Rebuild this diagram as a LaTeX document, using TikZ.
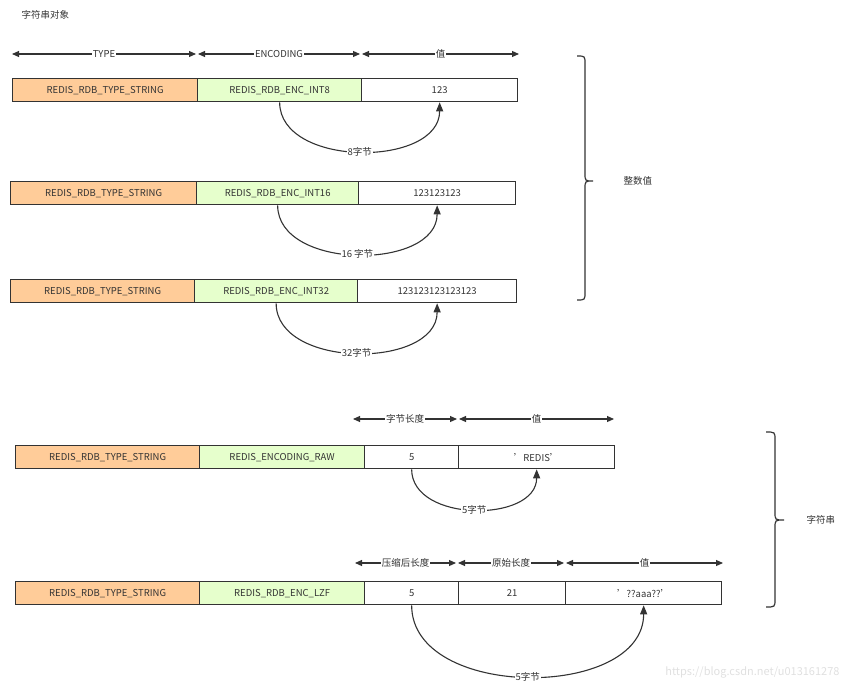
\documentclass[tikz,border=0pt]{standalone}
\usepackage{fontspec}
\setmainfont{Noto Sans CJK SC}
\usetikzlibrary{arrows.meta}
\definecolor{ora}{HTML}{FFCC99}
\definecolor{grn}{HTML}{E6FFCC}
\definecolor{ln}{HTML}{333333}
\begin{document}
\begin{tikzpicture}[x=1pt,y=-1pt,
  every node/.style={font=\fontsize{9.5}{11}\selectfont, text=ln},
  box/.style={draw=ln, line width=1.3pt, rectangle, anchor=north west, minimum height=23pt, inner sep=0pt},
  dim/.style={draw=ln, line width=1.1pt, {Triangle[length=7pt,width=6pt]}-{Triangle[length=7pt,width=6pt]}},
  lab/.style={fill=white, inner sep=1pt},
  jump/.style={draw=ln, line width=1.1pt, -{Triangle[length=9pt,width=7pt]}, out=-90, in=-90},
  brace/.style={draw=ln, line width=1.2pt}]
\useasboundingbox (0,0) rectangle (851,690);
\node[anchor=west] (title) at (18,15) {字符串对象};
% dims row 1
\coordinate (d0) at (12,54); \coordinate (d1) at (197,54); \coordinate (d2) at (361,54); \coordinate (d3) at (519,54);
\draw[dim] (d0) -- node[lab] {TYPE} ([xshift=-1]d1);
\draw[dim] ([xshift=1]d1) -- node[lab] {ENCODING} ([xshift=-1]d2);
\draw[dim] ([xshift=1]d2) -- node[lab] {值} (d3);
% row 1
\node[box, fill=ora, minimum width=185pt] (a1) at (12,78) {REDIS\_RDB\_TYPE\_STRING};
\node[box, fill=grn, minimum width=164pt] (b1) at (197,78) {REDIS\_RDB\_ENC\_INT8};
\node[box, fill=white, minimum width=156pt] (c1) at (361,78) {123};
\draw[jump, looseness=1.05] (b1.south) to node[pos=0.5, lab] {8字节} (c1.south);
% row 2
\node[box, fill=ora, minimum width=186pt] (a2) at (10,181) {REDIS\_RDB\_TYPE\_STRING};
\node[box, fill=grn, minimum width=162pt] (b2) at (196,181) {REDIS\_RDB\_ENC\_INT16};
\node[box, fill=white, minimum width=157pt] (c2) at (358,181) {123123123};
\draw[jump, looseness=1.05] (b2.south) to node[pos=0.5, lab] {16 字节} (c2.south);
% row 3
\node[box, fill=ora, minimum width=184pt] (a3) at (10,279) {REDIS\_RDB\_TYPE\_STRING};
\node[box, fill=grn, minimum width=163pt] (b3) at (194,279) {REDIS\_RDB\_ENC\_INT32};
\node[box, fill=white, minimum width=159pt] (c3) at (357,279) {123123123123123};
\draw[jump, looseness=1.05] (b3.south) to node[pos=0.5, lab] {32字节} (c3.south);
% brace 1
\draw[brace] (577,56) .. controls (585,56) .. (585,64) -- (585,173) .. controls (585,181) .. (593,181) .. controls (585,181) .. (585,189) -- (585,292) .. controls (585,300) .. (577,300);
\node[anchor=west] (int) at (620,181) {整数值};
% dims row 4
\coordinate (e0) at (353,419); \coordinate (e1) at (458,419); \coordinate (e2) at (614,419);
\draw[dim] (e0) -- node[lab] {字节长度} ([xshift=-1]e1);
\draw[dim] ([xshift=1]e1) -- node[lab] {值} (e2);
% row 4
\node[box, fill=ora, minimum width=184pt] (a4) at (15,445) {REDIS\_RDB\_TYPE\_STRING};
\node[box, fill=grn, minimum width=165pt] (b4) at (199,445) {REDIS\_ENCODING\_RAW};
\node[box, fill=white, minimum width=94pt] (c4) at (364,445) {5};
\node[box, fill=white, minimum width=156pt] (f4) at (458,445) {'REDIS'};
\draw[jump, looseness=1.1] (c4.south) to node[pos=0.5, lab] {5字节} (f4.south);
% dims row 5
\coordinate (g0) at (355,563); \coordinate (g1) at (457,563); \coordinate (g2) at (565,563); \coordinate (g3) at (723,563);
\draw[dim] (g0) -- node[lab] {压缩后长度} ([xshift=-1]g1);
\draw[dim] ([xshift=1]g1) -- node[lab] {原始长度} ([xshift=-1]g2);
\draw[dim] ([xshift=1]g2) -- node[lab] {值} (g3);
% row 5
\node[box, fill=ora, minimum width=184pt] (a5) at (15,581) {REDIS\_RDB\_TYPE\_STRING};
\node[box, fill=grn, minimum width=165pt] (b5) at (199,581) {REDIS\_RDB\_ENC\_LZF};
\node[box, fill=white, minimum width=94pt] (c5) at (364,581) {5};
\node[box, fill=white, minimum width=107pt] (h5) at (458,581) {21};
\node[box, fill=white, minimum width=156pt] (f5) at (565,581) {'??aaa??'};
\draw[jump, looseness=1.05] (c5.south) to node[pos=0.5, lab] {5字节} (f5.south);
% brace 2
\draw[brace] (766,432) .. controls (775,432) .. (775,440) -- (775,512) .. controls (775,520) .. (784,520) .. controls (775,520) .. (775,528) -- (775,599) .. controls (775,607) .. (766,607);
\node[anchor=west] (str) at (803,520) {字符串};
\node[anchor=east, text=black!12, font=\fontsize{11}{13}\selectfont] (wm) at (843,672) {https://blog.csdn.net/u013161278};
\end{tikzpicture}
\end{document}
